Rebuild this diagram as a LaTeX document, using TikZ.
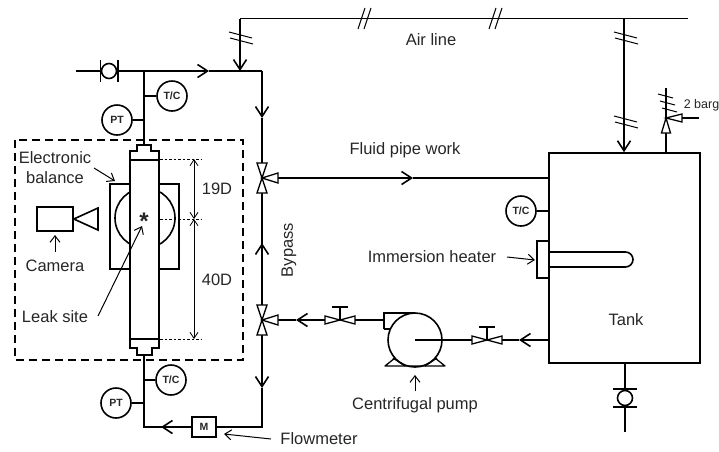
\documentclass[tikz,border=0pt]{standalone}
\usepackage{fontspec}
\setmainfont{Liberation Sans}
\usetikzlibrary{arrows.meta}
\usetikzlibrary{calc}
\begin{document}
\begin{tikzpicture}[x=1pt,y=-1pt,line width=1.6pt,font=\fontsize{16.5}{18}\selectfont,text=black!85]
	\tikzstyle{flow}=[-{Straight Barb[length=10pt,width=13pt,line width=1.6pt]}]
	\tikzstyle{pointer}=[-{Straight Barb[length=6.5pt,width=10pt,line width=1pt]},line width=1pt]
	\tikzstyle{dimline}=[{Straight Barb[length=6pt,width=8pt,line width=.8pt]}-{Straight Barb[length=6pt,width=8pt,line width=.8pt]},line width=.8pt]
	\tikzstyle{gauge}=[shape=circle,draw,fill=white,minimum size=30pt,inner sep=0pt,font=\fontsize{10.5}{11}\selectfont\bfseries]
	\tikzstyle{ball}=[shape=circle,draw,fill=white,minimum size=15pt,inner sep=0pt]
	\tikzstyle{valvebody}=[draw,fill=white,line width=1.3pt]
	\tikzstyle{tick}=[line width=1pt]
	\tikzstyle{leader}=[line width=.8pt,dash pattern=on 2.5pt off 2pt]
	\useasboundingbox (0,0) rectangle (719,451);

	\coordinate (L_0) at (76,71);
	\coordinate (J_0) at (144,71);
	\coordinate (A_0) at (240,71);
	\coordinate (C_0) at (262,71);
	\coordinate (C_1) at (262,427);
	\coordinate (J_1) at (144,427);
	\coordinate (T_0) at (240,18.5);
	\coordinate (T_1) at (624,18.5);
	\coordinate (T_2) at (688,18.5);
	\coordinate (W_1) at (262,178);
	\coordinate (W_2) at (262,320);
	\coordinate (G_1) at (340,320);
	\coordinate (G_2) at (487,340);
	\coordinate (R_0) at (666,118);

	\node[draw,minimum width=151pt,minimum height=210pt,inner sep=0pt] (tank) at (624.5,258) {};
	\node (tank_text) at (626,320) {Tank};

	\draw[line width=1.4pt,dash pattern=on 8pt off 5pt] (15,140) rectangle (243,360);

	\node[draw,minimum width=69pt,minimum height=85pt,inner sep=0pt] (balance) at (144.5,226.5) {};
	\node[draw,circle,minimum size=60pt,inner sep=0pt] (disc) at (145,218) {};
	\node[draw,fill=white,minimum width=29pt,minimum height=179pt,inner sep=0pt] (column) at (144.5,249.5) {};
	\draw (130,160) -- (130,151) -- (137,151) -- (137,145) -- (151,145) -- (151,151) -- (159,151) -- (159,160);
	\draw (130,339) -- (130,348) -- (137,348) -- (137,355) -- (152,355) -- (152,348) -- (159,348) -- (159,339);
	\coordinate (col_in) at (144,145);
	\coordinate (col_out) at (144,355);
	\node[inner sep=0pt,font=\fontsize{24}{24}\selectfont\bfseries] (leak) at (144,221) {*};

	\draw (L_0) -- (J_0) -- (col_in);
	\draw[flow] (J_0) -- (209,71);
	\draw (209,71) -- (C_0);
	\draw[flow] (C_0) -- (262,118);
	\draw (262,118) -- (W_1);
	\draw (W_1) -- (W_2);
	\draw[flow] (W_2) -- (262,243);
	\draw[flow] (W_2) -- (262,388);
	\draw (262,388) -- (C_1) -- (J_1) -- (col_out);
	\draw[flow] (216,427) -- (161,427);
	\draw[flow] (T_0) -- (A_0);
	\draw (T_0) -- (T_2);
	\draw[flow] (T_1) -- (T_1 |- tank.north);
	\draw[flow] (W_1) -- (413,178);
	\draw (413,178) -- (W_1 -| tank.west);
	\draw[flow] (W_2 -| G_1) -- (296,320);
	\draw (296,320) -- (W_2);
	\draw (G_1) -- (384,320);
	\draw[flow] (tank.west |- G_2) -- (519,340);
	\draw (519,340) -- (415,340);

	\node[ball] (V_1) at (109,71) {};
	\draw ([shift={(-8.5,-11)}]V_1.center) -- ++(0,22);
	\draw ([shift={(9,-11)}]V_1.center) -- ++(0,22);

	\node[gauge] (TC_1) at (172,96) {T/C};
	\node[gauge] (PT_1) at (117,120) {PT};
	\node[gauge] (TC_2) at (171,380) {T/C};
	\node[gauge] (PT_2) at (116,403) {PT};
	\node[gauge] (TC_3) at (521,211) {T/C};
	\draw (TC_1) -- (TC_1 -| J_0);
	\draw (PT_1) -- (PT_1 -| J_0);
	\draw (TC_2) -- (TC_2 -| J_0);
	\draw (PT_2) -- (PT_2 -| J_0);
	\draw (TC_3) -- (TC_3 -| tank.west);

	\node[draw,fill=white,minimum width=24pt,minimum height=20pt,inner sep=0pt,font=\fontsize{10.5}{11}\selectfont\bfseries] (M_1) at (204,427) {M};

	\foreach \vname in {W_1,W_2} {
		\draw[valvebody] (\vname) -- ++(-5,-15) -- ++(10,0) -- cycle;
		\draw[valvebody] (\vname) -- ++(-5,15) -- ++(10,0) -- cycle;
		\draw[valvebody] (\vname) -- ++(16,-5) -- ++(0,10) -- cycle;
	}
	\foreach \vname in {G_1,G_2} {
		\draw[valvebody] (\vname) -- ++(-15,-4) -- ++(0,8) -- cycle;
		\draw[valvebody] (\vname) -- ++(15,-4) -- ++(0,8) -- cycle;
		\draw (\vname) -- ++(0,-13) ++(-8,0) -- ++(16,0);
	}

	\node[draw,fill=white,minimum width=12pt,minimum height=37pt,inner sep=0pt] (heater) at (543,259.5) {};
	\draw[rounded corners=7.5pt] (549,252) -- (633,252) -- (633,267) -- (549,267);

	\draw (384,329) -- (384,313) -- (415,313);
	\draw (384,329) -- (392,329);
	\node[draw,circle,fill=white,minimum size=54pt,inner sep=0pt] (pump) at (415,340) {};
	\draw (pump.center) -- (pump.east);
	\draw[line width=1.3pt,line join=round] (395,358) -- (385,366) -- (445,366) -- (435,358);
	\draw[line width=1.3pt] (393,358) -- (405,366);
	\draw[line width=1.3pt] (437,358) -- (425,366);

	\coordinate (D_0) at (625,363);
	\coordinate (D_1) at (625,432);
	\draw (D_0) -- (D_1);
	\node[ball] (V_2) at (625,398) {};
	\draw ([shift={(-12,-9)}]V_2.center) -- ++(24,0);
	\draw ([shift={(-12,9)}]V_2.center) -- ++(24,0);

	\draw (R_0 |- tank.north) -- (R_0);
	\draw[line width=1.2pt] (R_0) -- (666,88);
	\draw (R_0) -- (699,118);
	\draw[valvebody] (R_0) -- ++(-4.5,15) -- ++(9,0) -- cycle;
	\draw[valvebody] (R_0) -- ++(16,-4) -- ++(0,8) -- cycle;

	\foreach \tx/\ty in {229/32,230/38,614/32,615/38,614/116,615/122} {
		\draw[tick] (\tx,\ty) -- ++(23,6);
	}
	\foreach \tx/\ty in {658/94,660/101,662/108} {
		\draw[tick] (\tx,\ty) -- ++(15,4);
	}
	\foreach \tx in {358,364,489,495} {
		\draw[tick] (\tx,29) -- ++(7,-21);
	}

	\node[draw,minimum width=36pt,minimum height=24pt,inner sep=0pt] (camera) at (55,219) {};
	\draw (camera.east) -- (98,208) -- (98,230) -- cycle;

	\draw[leader] (160,159) -- (202,159);
	\draw[leader] (160,219) -- (202,219);
	\draw[leader] (160,339) -- (202,339);
	\coordinate (D_a) at (194,159);
	\coordinate (D_b) at (194,219);
	\coordinate (D_c) at (194,339);
	\draw[dimline] (D_a) -- (D_b);
	\draw[dimline] (D_b) -- (D_c);
	\node (dim_19) at (217,189) {19D};
	\node (dim_40) at (217,280) {40D};

	\node[align=center,font=\fontsize{16.5}{20}\selectfont] (bal_text) at (55,168) {Electronic\\balance};
	\node (cam_text) at (55,266) {Camera};
	\node (leak_text) at (55,317) {Leak site};
	\node (air_text) at (431,40) {Air line};
	\node (pipe_text) at (405,150) {Fluid pipe work};
	\node[rotate=90] (by_text) at (289,250) {Bypass};
	\node (heat_text) at (432,257) {Immersion heater};
	\node (pump_text) at (415,405) {Centrifugal pump};
	\node (flow_text) at (319,439) {Flowmeter};
	\node[font=\fontsize{12.5}{14}\selectfont] (barg_text) at (701.5,105) {2 barg};

	\draw[pointer] (94,168) -- (115,181);
	\draw[pointer] (55,252) -- (55,235);
	\draw[pointer] (98,316) -- (142,226);
	\draw[pointer] (415,391) -- (415,375);
	\draw[pointer] (271,439) -- (224,434);
	\draw[pointer] (507,257) -- (535,260);
\end{tikzpicture}
\end{document}
